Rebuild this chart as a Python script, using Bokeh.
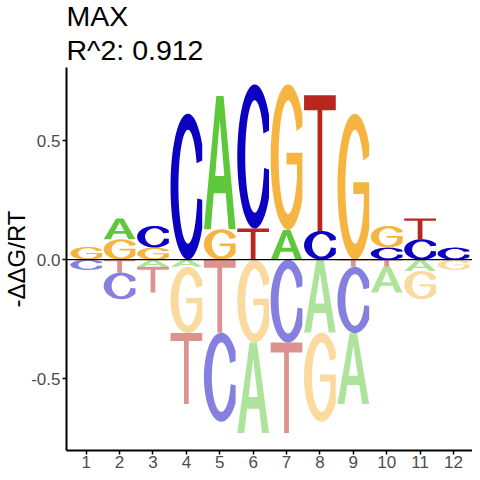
import numpy as np
from bokeh.plotting import figure
from bokeh.models import Span, Title, FixedTicker, NumeralTickFormatter, Range1d, ColumnDataSource
from bokeh.embed import file_html
from bokeh.resources import INLINE

# ---------------- data ----------------
positions = list(range(1, 13))
bases = ["A", "C", "G", "T"]
A_vals = [0.0, 0.087, -0.030, -0.030, 0.559, -0.380, 0.125, -0.306, -0.298, -0.108, -0.047, 0.0]
C_vals = [-0.043, -0.112, 0.091, 0.613, -0.374, 0.605, -0.348, 0.121, -0.278, 0.051, 0.086, 0.051]
G_vals = [0.054, 0.086, 0.051, -0.278, 0.128, -0.348, 0.611, -0.374, 0.613, 0.091, -0.119, -0.043]
T_vals = [0.0, -0.054, -0.108, -0.298, -0.306, 0.131, -0.380, 0.569, -0.030, -0.030, 0.087, 0.0]
y_ticks = [-0.5, 0.0, 0.5]
title_line1 = "MAX"
title_line2 = "R^2: 0.912"
y_label = "-ΔΔG/RT"

values = {"A": A_vals, "C": C_vals, "G": G_vals, "T": T_vals}
colors = {"A": "#5DC83A", "C": "#0C00C2", "G": "#F5B540", "T": "#B9261D"}

# ---------------- letter templates (unit box) ----------------
def arc(cx, cy, rx, ry, a0, a1, n=60):
    t = np.radians(np.linspace(a0, a1, n))
    return list(cx + rx * np.cos(t)), list(cy + ry * np.sin(t))

def ang_y(cy, ry, y):
    return np.degrees(np.arcsin((y - cy) / ry))

cx, cy, rxo, ryo, rxi, ryi = 0.55, 0.5, 0.55, 0.5, 0.30, 0.39

def template_C():
    ox, oy = arc(cx, cy, rxo, ryo, 35, 325)
    a_low = 360 + ang_y(cy, ryi, 0.42)
    a_up = ang_y(cy, ryi, 0.66)
    ix, iy = arc(cx, cy, rxi, ryi, a_low, a_up)
    xs = ox + [1.0] + ix + [1.0]
    ys = oy + [0.41] + iy + [0.68]
    return [[xs, ys]]

def template_G():
    ox, oy = arc(cx, cy, rxo, ryo, 35, 325)
    a_st = 360 - np.degrees(np.arccos((0.83 - cx) / rxi))
    a_up = ang_y(cy, ryi, 0.68)
    ix, iy = arc(cx, cy, rxi, ryi, a_st, a_up)
    xs = ox + [1.0, 0.5, 0.5, 0.83] + ix + [1.0]
    ys = oy + [0.53, 0.53, 0.45, 0.45] + iy + [0.71]
    return [[xs, ys]]

def template_A():
    ext_x = [0.0, 0.39, 0.62, 1.0, 0.78, 0.69, 0.31, 0.22]
    ext_y = [0.0, 1.0, 1.0, 0.0, 0.0, 0.27, 0.27, 0.0]
    hole_x = [0.356, 0.5, 0.644]
    hole_y = [0.40, 0.82, 0.40]
    return [[ext_x, ext_y], [hole_x, hole_y]]

def template_T():
    xs = [0.0, 1.0, 1.0, 0.575, 0.575, 0.425, 0.425, 0.0]
    ys = [1.0, 1.0, 0.89, 0.89, 0.0, 0.0, 0.89, 0.89]
    return [[xs, ys]]

templates = {"A": template_A(), "C": template_C(), "G": template_G(), "T": template_T()}

letter_w = 0.95

# ---------------- build stacks ----------------
all_xs, all_ys, fills, alphas = [], [], [], []

def add_letter(base, pos, y0, y1):
    x0 = pos - letter_w / 2
    h = y1 - y0
    rings_x, rings_y = [], []
    for rx, ry in templates[base]:
        rings_x.append([x0 + u * letter_w for u in rx])
        rings_y.append([y0 + v * h for v in ry])
    all_xs.append([rings_x])
    all_ys.append([rings_y])

for i, pos in enumerate(positions):
    items = [(b, values[b][i]) for b in bases]
    pos_items = sorted([it for it in items if it[1] > 0], key=lambda t: t[1])
    neg_items = sorted([it for it in items if it[1] < 0], key=lambda t: -t[1])
    cur = 0.0
    for b, v in pos_items:
        add_letter(b, pos, cur, cur + v)
        fills.append(colors[b]); alphas.append(1.0)
        cur += v
    cur = 0.0
    for b, v in neg_items:
        add_letter(b, pos, cur + v, cur)
        fills.append(colors[b]); alphas.append(0.5)
        cur += v

src = ColumnDataSource(dict(xs=all_xs, ys=all_ys, fill=fills, alpha=alphas))

# ---------------- figure ----------------
p = figure(output_backend="svg", toolbar_location=None,
           frame_width=406, frame_height=383,
           x_range=Range1d(0.41, 12.57), y_range=Range1d(-0.801, 0.807),
           min_border_left=0, min_border_right=0, min_border_top=0, min_border_bottom=0)

p.multi_polygons(xs="xs", ys="ys", source=src, fill_color="fill", fill_alpha="alpha",
                 line_color=None)

p.add_layout(Span(location=0, dimension="width", line_color="black", line_width=1.2))

p.add_layout(Title(text=title_line2, text_font_size="28.5px", text_font_style="normal",
                   text_font="Liberation Sans", text_color="black", align="left",
                   text_line_height=1.0, standoff=4), "above")
p.add_layout(Title(text=title_line1, text_font_size="28.5px", text_font_style="normal",
                   text_font="Liberation Sans", text_color="black", align="left",
                   text_line_height=1.0, standoff=-5), "above")

p.xgrid.visible = False
p.ygrid.visible = False
p.outline_line_color = None
p.background_fill_color = "white"
p.border_fill_color = "white"

for ax in (p.xaxis[0], p.yaxis[0]):
    ax.axis_line_color = "black"
    ax.axis_line_width = 2
    ax.major_tick_line_color = "black"
    ax.major_tick_line_width = 1.5
    ax.major_tick_out = 4
    ax.major_tick_in = 0
    ax.minor_tick_line_color = None
    ax.major_label_text_font = "Liberation Sans"
    ax.major_label_text_font_size = "17px"
    ax.major_label_text_color = "#4D4D4D"
    ax.major_label_standoff = 2

p.xaxis.major_label_standoff = 1
p.xaxis.ticker = FixedTicker(ticks=positions)
p.yaxis.ticker = FixedTicker(ticks=y_ticks)
p.yaxis.formatter = NumeralTickFormatter(format="0.0")
p.yaxis.axis_label = y_label
p.yaxis.axis_label_text_font = "Liberation Sans"
p.yaxis.axis_label_text_font_size = "24px"
p.yaxis.axis_label_text_font_style = "normal"
p.yaxis.axis_label_text_color = "black"
p.yaxis.axis_label_text_line_height = 1.0
p.yaxis.axis_label_standoff = -2

open("out.html", "w").write(file_html(p, INLINE))
